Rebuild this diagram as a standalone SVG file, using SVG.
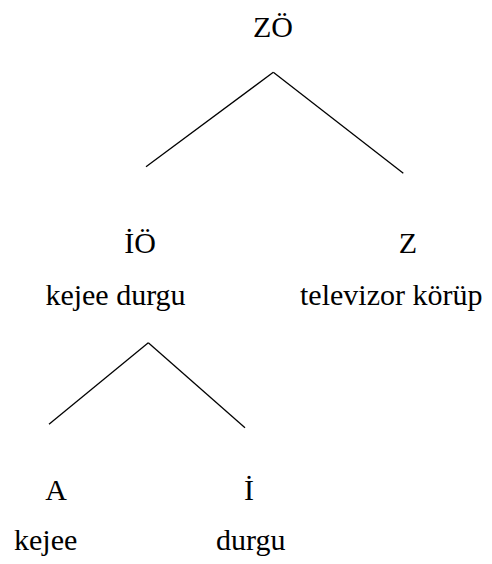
<svg xmlns="http://www.w3.org/2000/svg" width="492" height="564" viewBox="0 0 492 564" style="font-family:'Liberation Serif','Times New Roman',serif">
<rect width="492" height="564" fill="#fff"/>
<g id="connectors" stroke="#000" stroke-width="1.3" fill="none">
<line x1="273.3" y1="72.3" x2="146" y2="166.7"/>
<line x1="273.3" y1="72.3" x2="403.3" y2="173.3"/>
<line x1="148.3" y1="342.7" x2="49" y2="424.3"/>
<line x1="148.3" y1="342.7" x2="245" y2="427.7"/>
</g>
<g id="ZO"><text font-family="Liberation Serif, serif" font-size="30" text-anchor="middle" x="273" y="37"><tspan font-family="Liberation Serif, serif">ZÖ</tspan></text></g>
<g id="IO"><text font-family="Liberation Serif, serif" font-size="30" text-anchor="middle" x="140" y="253"><tspan font-family="Liberation Serif, serif">İÖ</tspan></text><text font-family="Liberation Serif, serif" font-size="30" text-anchor="middle" x="115.5" y="305"><tspan font-family="Liberation Serif, serif">kejee durgu</tspan></text></g>
<g id="Z"><text font-family="Liberation Serif, serif" font-size="30" text-anchor="middle" x="408" y="253"><tspan font-family="Liberation Serif, serif">Z</tspan></text><text font-family="Liberation Serif, serif" font-size="30" x="300" y="305"><tspan font-family="Liberation Serif, serif">televizor körüp</tspan></text></g>
<g id="A"><text font-family="Liberation Serif, serif" font-size="30" text-anchor="middle" x="56" y="500"><tspan font-family="Liberation Serif, serif">A</tspan></text><text font-family="Liberation Serif, serif" font-size="30" x="14" y="550"><tspan font-family="Liberation Serif, serif">kejee</tspan></text></g>
<g id="I"><text font-family="Liberation Serif, serif" font-size="30" text-anchor="middle" x="249" y="500"><tspan font-family="Liberation Serif, serif">İ</tspan></text><text font-family="Liberation Serif, serif" font-size="30" x="216" y="550"><tspan font-family="Liberation Serif, serif">durgu</tspan></text></g>
</svg>
